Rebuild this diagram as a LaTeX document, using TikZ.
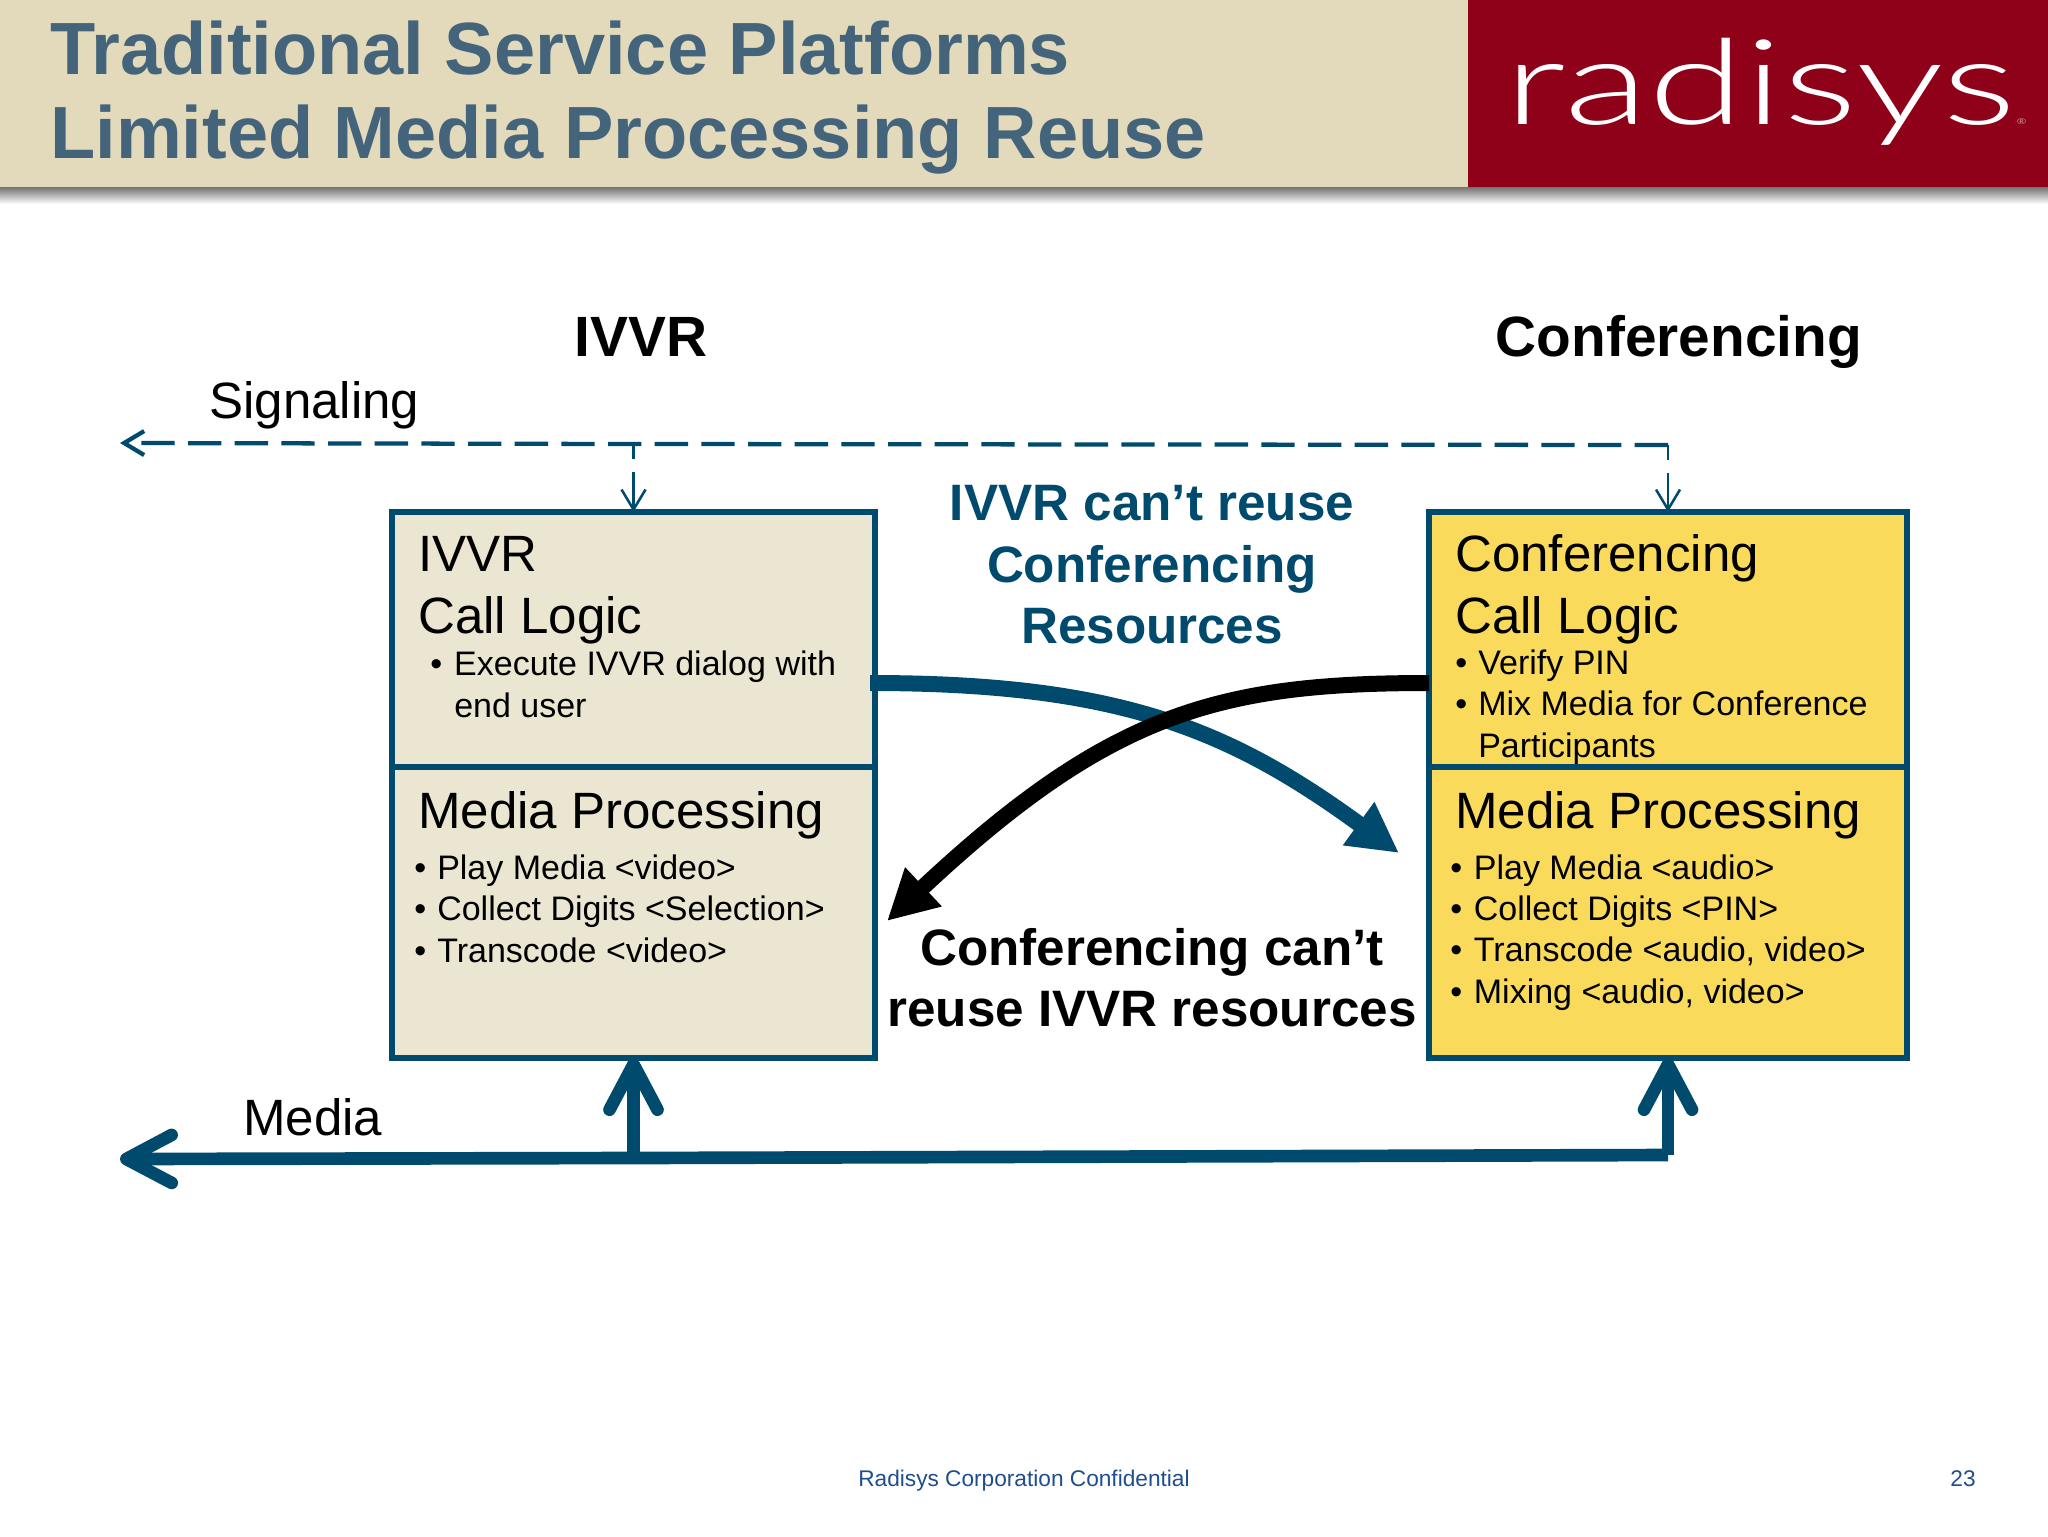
\documentclass[tikz,border=0pt]{standalone}
\usepackage{fontspec}
\setmainfont{Liberation Sans}
\newfontfamily\logofont[FakeStretch=1.47]{Lato Light}
\usepackage{xcolor}
\usetikzlibrary{arrows.meta}
\definecolor{headbeige}{HTML}{E3DABC}
\definecolor{headred}{HTML}{8F0019}
\definecolor{titleblue}{HTML}{44647C}
\definecolor{linkblue}{HTML}{004A6E}
\definecolor{boxbeige}{HTML}{EBE6D2}
\definecolor{boxyellow}{HTML}{F9DA5B}
\definecolor{footblue}{HTML}{1F4E8C}
\newcommand{\bul}[2]{\makebox[#1][l]{•}#2}

\begin{document}
\begin{tikzpicture}
[x=0.75pt,y=-0.75pt,
mybox/.style={rectangle,draw=linkblue,line width=3.8pt,outer sep=0pt,inner sep=0pt},
headtxt/.style={anchor=base,inner sep=0pt,font=\fontsize{42.6}{46}\selectfont\bfseries},
bigtxt/.style={anchor=base west,inner sep=0pt,align=left,font=\fontsize{38.3}{46}\selectfont},
smalltxt/.style={anchor=base west,inner sep=0pt,align=left,font=\fontsize{25.5}{30.9}\selectfont},
midtxt/.style={anchor=base,inner sep=0pt,align=center,font=\fontsize{38.4}{46}\selectfont\bfseries},
foot/.style={anchor=base,inner sep=0pt,text=footblue,font=\fontsize{17}{20}\selectfont},
sigline/.style={draw=linkblue,line width=3.2pt,dash pattern=on 25pt off 10pt},
sigdrop/.style={draw=linkblue,line width=1.9pt,dash pattern=on 11pt off 10pt on 60pt off 100pt,
  -{Straight Barb[length=15pt,width=18pt]}},
medline/.style={draw=linkblue,line width=9.5pt,-{Straight Barb[round,length=34pt,width=36pt]}},
crossline/.style={line width=12pt,-{Triangle[length=37.5pt,width=37.5pt]}},
]

\shade [top color=black!55,bottom color=white] (0,187) rectangle (2048,204);
\fill [headbeige] (0,0) rectangle (1468,187);
\fill [headred] (1468,0) rectangle (2048,187);
\useasboundingbox (0,0) rectangle (2048,1536);

\node [anchor=base west,inner sep=0pt,align=left,text=titleblue,font=\fontsize{55.5}{63}\selectfont\bfseries] (title) at (50,158)
  {Traditional Service Platforms\\Limited Media Processing Reuse};
\node [anchor=base west,inner sep=0pt,text=white,font=\logofont\fontsize{89}{89}\selectfont] (logo) at (1504,124)
  {radisys{\fontsize{6}{6}\selectfont ®}};

\node [headtxt] (H1) at (641,356){IVVR};
\node [headtxt] (H2) at (1679,356){Conferencing};
\node [bigtxt] (sig) at (209,418){Signaling};
\node [bigtxt] (med) at (243,1135){Media};

\node [mybox,fill=boxbeige,minimum width=483pt*0.75,minimum height=255pt*0.75] (A) at (633.5,639.5){};
\node [mybox,fill=boxbeige,minimum width=483pt*0.75,minimum height=291pt*0.75] (B) at (633.5,912.5){};
\node [mybox,fill=boxyellow,minimum width=478pt*0.75,minimum height=255pt*0.75] (C) at (1668,639.5){};
\node [mybox,fill=boxyellow,minimum width=478pt*0.75,minimum height=291pt*0.75] (D) at (1668,912.5){};

\node [bigtxt] (A1) at (418,633){IVVR\\Call Logic};
\node [smalltxt] (A2) at (430,717){\bul{18pt}{Execute IVVR dialog with}\\\makebox[18pt]{}end user};
\node [bigtxt] (B1) at (418,828){Media Processing};
\node [smalltxt] (B2) at (414,962){\bul{17.25pt}{Play Media <video>}\\\bul{17.25pt}{Collect Digits <Selection>}\\\bul{17.25pt}{Transcode <video>}};
\node [bigtxt] (C1) at (1455,633){Conferencing\\Call Logic};
\node [smalltxt] (C2) at (1455,757){\bul{17.25pt}{Verify PIN}\\\bul{17.25pt}{Mix Media for Conference}\\\makebox[17.25pt]{}Participants};
\node [bigtxt] (D1) at (1455,828){Media Processing};
\node [smalltxt] (D2) at (1450,1003){\bul{17.75pt}{Play Media <audio>}\\\bul{17.75pt}{Collect Digits <PIN>}\\\bul{17.75pt}{Transcode <audio, video>}\\\bul{17.75pt}{Mixing <audio, video>}};

\node [midtxt,text=linkblue] (M1) at (1152,643.5){IVVR can’t reuse\\Conferencing\\Resources};
\node [midtxt] (M2) at (1152,1026.5){Conferencing can’t\\reuse IVVR resources};

\node [foot] (F1) at (1024,1486){Radisys Corporation Confidential};
\node [foot] (F2) at (1963,1486){23};

\coordinate (sigend) at (120,443);
\coordinate (sigL) at (633.5,444);
\coordinate (sigR) at (1668,445);
\coordinate (medend) at (120,1159);
\coordinate (medL) at (633.5,1158);
\coordinate (medR) at (1668,1155);
\coordinate (blueA) at (870,683);
\coordinate (blueD) at (1399,853);
\coordinate (blackC) at (1429,683);
\coordinate (blackB) at (887,921);

\draw [sigline,-{Straight Barb[length=15pt,width=18pt]}] (sigR) -- (sigL) -- (sigend);
\draw [sigdrop] (sigL) -- (A.north);
\draw [sigdrop] (sigR) -- (C.north);
\draw [medline] (medR) -- (medL) -- (medend);
\draw [medline] (medL) -- (B.south);
\draw [medline] (medR) -- (D.south);
\draw [crossline,draw=linkblue] (blueA) .. controls (1120,683) and (1230,730) .. (blueD);
\draw [crossline,draw=black] (blackC) .. controls (1220,683) and (1110,712) .. (blackB);
\end{tikzpicture}
\end{document}
